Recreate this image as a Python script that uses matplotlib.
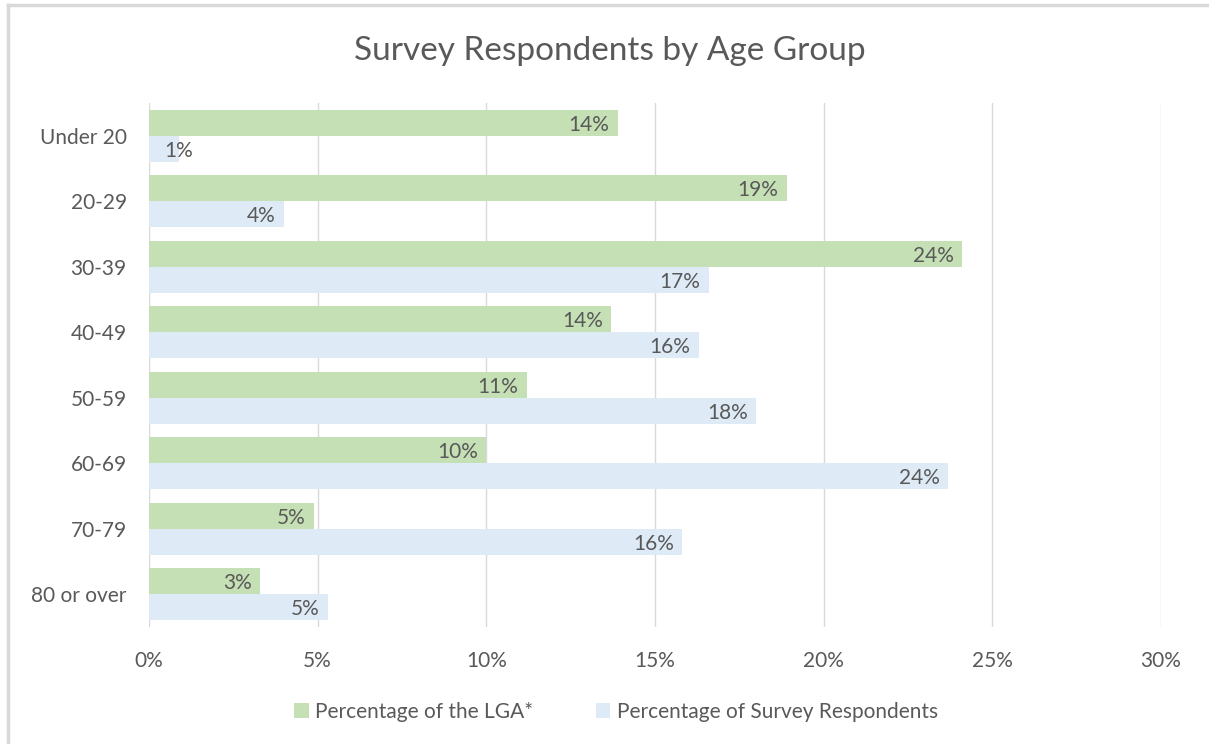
import matplotlib.pyplot as plt
import numpy as np

# Data: share of each age group (%)
age_groups = ['Under 20', '20-29', '30-39', '40-49', '50-59', '60-69', '70-79', '80 or over']
lga_pct = [13.9, 18.9, 24.1, 13.7, 11.2, 10.0, 4.9, 3.3]
survey_pct = [0.9, 4.0, 16.6, 16.3, 18.0, 23.7, 15.8, 5.3]
xticks = [0, 5, 10, 15, 20, 25, 30]

green = '#C5E0B4'
blue = '#DEEBF7'
txt = '#595959'

plt.rcParams['font.family'] = ['Lato', 'DejaVu Sans']

fig = plt.figure(figsize=(12.09, 7.44), dpi=100)
ax = fig.add_axes([149 / 1209, 1 - 627 / 744, (1161 - 149) / 1209, (627 - 103) / 744])

y = np.arange(len(age_groups))
h = 0.4
b1 = ax.barh(y - h / 2, lga_pct, height=h, color=green, label='Percentage of the LGA*', zorder=2)
b2 = ax.barh(y + h / 2, survey_pct, height=h, color=blue, label='Percentage of Survey Respondents', zorder=2)

# value labels just inside the bar ends; bars too short get the label from the start
for bars, vals in ((b1, lga_pct), (b2, survey_pct)):
    for rect, v in zip(bars, vals):
        yc = rect.get_y() + rect.get_height() / 2
        if v < 2:
            ax.annotate(f'{v:.0f}%', (0, yc), xytext=(11, -1.5), textcoords='offset points',
                        ha='left', va='center', fontsize=15, color=txt, zorder=3)
        else:
            ax.annotate(f'{v:.0f}%', (v, yc), xytext=(-6, -1.5), textcoords='offset points',
                        ha='right', va='center', fontsize=15, color=txt, zorder=3)

ax.set_xlim(0, 30)
ax.set_ylim(len(age_groups) - 0.5, -0.5)
ax.set_xticks(xticks)
ax.set_xticklabels([f'{t}%' for t in xticks])
ax.set_yticks(y)
ax.set_yticklabels(age_groups)
ax.tick_params(axis='both', length=0, labelsize=15, labelcolor=txt)
ax.tick_params(axis='x', pad=17)
ax.tick_params(axis='y', pad=16)
ax.grid(axis='x', color='#D9D9D9', linewidth=1, zorder=0)
for s in ax.spines.values():
    s.set_visible(False)

fig.text(610 / 1209, 1 - 51 / 744, 'Survey Respondents by Age Group',
         ha='center', va='center', fontsize=24, color=txt)

fig.legend(handles=[b1, b2], loc='center', bbox_to_anchor=(616 / 1209, 1 - 712 / 744),
           ncol=2, frameon=False, fontsize=15, labelcolor=txt,
           handlelength=0.7, handleheight=0.7, handletextpad=0.3, columnspacing=3)

# chart frame along the top and left edges
fig.add_artist(plt.Line2D([8 / 1209, 8 / 1209], [0, 1 - 5 / 744], transform=fig.transFigure,
                          color='#D9D9D9', linewidth=2.5))
fig.add_artist(plt.Line2D([8 / 1209, 1], [1 - 5 / 744, 1 - 5 / 744], transform=fig.transFigure,
                          color='#D9D9D9', linewidth=2.5))

fig.savefig('out.png', dpi=100)
